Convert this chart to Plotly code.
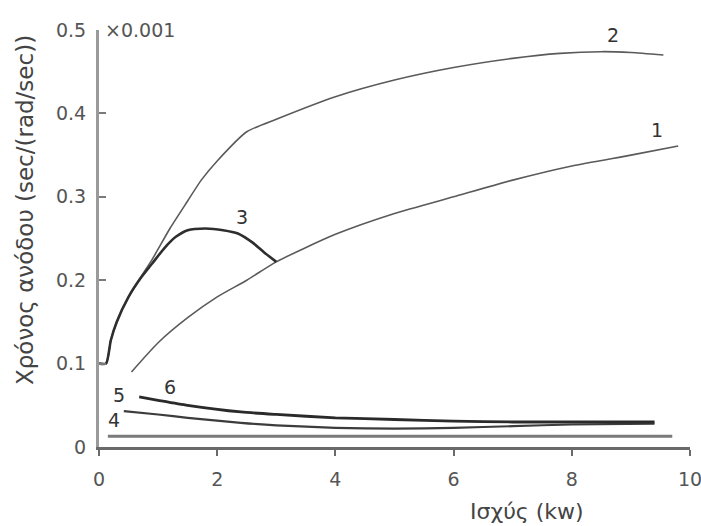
import plotly.graph_objects as go

# Curve data (y in units of 0.001 sec/(rad/sec)), x in kW
c1_x = [0.55, 1.0, 1.5, 2.0, 2.5, 3.0, 4.0, 5.0, 6.0, 7.0, 8.0, 9.0, 9.8]
c1_y = [0.090, 0.125, 0.155, 0.180, 0.200, 0.222, 0.255, 0.280, 0.300, 0.320, 0.337, 0.350, 0.361]

c2_x = [0.0, 0.12, 0.2, 0.3, 0.5, 0.7, 0.9, 1.2, 1.5, 1.73, 2.0, 2.5, 3.0, 4.0, 5.0, 6.0, 7.0, 7.8, 8.5, 9.0, 9.55]
c2_y = [0.100, 0.100, 0.128, 0.150, 0.180, 0.203, 0.225, 0.262, 0.295, 0.320, 0.343, 0.378, 0.393, 0.420, 0.440, 0.455, 0.466, 0.472, 0.474, 0.473, 0.470]

c3_x = [0.0, 0.12, 0.2, 0.3, 0.5, 0.7, 0.9, 1.1, 1.3, 1.5, 1.8, 2.1, 2.35, 2.6, 2.8, 3.0]
c3_y = [0.100, 0.100, 0.128, 0.150, 0.180, 0.202, 0.220, 0.238, 0.252, 0.260, 0.262, 0.260, 0.256, 0.245, 0.233, 0.222]

c4_x = [0.15, 2.0, 4.0, 6.0, 8.0, 9.7]
c4_y = [0.013, 0.013, 0.013, 0.013, 0.013, 0.013]

c5_x = [0.42, 1.0, 1.5, 2.4, 3.0, 4.0, 5.0, 6.0, 7.0, 8.0, 9.4]
c5_y = [0.043, 0.039, 0.035, 0.029, 0.026, 0.023, 0.022, 0.023, 0.025, 0.027, 0.028]

c6_x = [0.68, 1.0, 1.5, 2.4, 3.0, 4.0, 5.0, 6.0, 7.0, 8.0, 9.4]
c6_y = [0.060, 0.056, 0.050, 0.042, 0.039, 0.035, 0.033, 0.031, 0.030, 0.030, 0.030]

x_ticks = [0, 2, 4, 6, 8, 10]
y_ticks = [0, 0.1, 0.2, 0.3, 0.4, 0.5]
y_ticklabels = ["0", "0.1", "0.2", "0.3", "0.4", "0.5"]

curve_labels = ["1", "2", "3", "4", "5", "6"]
label_x = [9.44, 8.7, 2.42, 0.25, 0.34, 1.2]
label_y = [0.380, 0.494, 0.276, 0.032, 0.062, 0.072]

FONT = "DejaVu Sans"
W, H = 701, 526
L, R, T, B = 99, 11, 30, 79
pw, ph = W - L - R, H - T - B

fig = go.Figure()
styles = [
    (c1_x, c1_y, "#5a5a5a", 1.6),
    (c2_x, c2_y, "#5a5a5a", 1.6),
    (c3_x, c3_y, "#2e2e2e", 2.6),
    (c4_x, c4_y, "#7a7a7a", 3.0),
    (c5_x, c5_y, "#3c3c3c", 2.2),
    (c6_x, c6_y, "#2a2a2a", 2.8),
]
for xs, ys, col, w in styles:
    fig.add_trace(go.Scatter(x=xs, y=ys, mode="lines",
                             line=dict(color=col, width=w, shape="spline", smoothing=0.6),
                             showlegend=False, hoverinfo="skip"))

for t, lx, ly in zip(curve_labels, label_x, label_y):
    fig.add_annotation(x=lx, y=ly, text=t, showarrow=False,
                       font=dict(family=FONT, size=19, color="#333333"))

fig.add_annotation(x=0.06, y=0.5, xref="x", yref="y", xanchor="left", yanchor="middle",
                   text="×0.001", showarrow=False,
                   font=dict(family=FONT, size=19, color="#555555"))

# axis titles placed in paper coordinates (pixel targets converted)
fig.add_annotation(xref="paper", yref="paper", x=(25 - L) / pw, y=(H - 210 - B) / ph,
                   xanchor="center", yanchor="middle",
                   text="Χρόνος ανόδου (sec/(rad/sec))", showarrow=False, textangle=-90,
                   font=dict(family=FONT, size=23, color="#444444"))
fig.add_annotation(xref="paper", yref="paper", x=(527 - L) / pw, y=(H - 512 - B) / ph,
                   xanchor="center", yanchor="middle",
                   text="Ισχύς (kw)", showarrow=False,
                   font=dict(family=FONT, size=22, color="#444444"))

fig.update_layout(
    width=W, height=H,
    margin=dict(l=L, r=R, t=T, b=B, autoexpand=False),
    paper_bgcolor="white", plot_bgcolor="white",
    font=dict(family=FONT, size=19, color="#555555"),
)
fig.update_xaxes(range=[0, 10], tickvals=x_ticks, ticktext=[str(v) for v in x_ticks],
                 showgrid=False, zeroline=False, showline=True, linecolor="#6a6a6a", linewidth=3,
                 ticks="outside", ticklen=6, tickwidth=2, tickcolor="#6a6a6a",
                 ticklabeloverflow="allow", automargin=False,
                 ticklabelstandoff=7, tickfont=dict(family=FONT, size=19, color="#555555"))
fig.update_yaxes(range=[0, 0.5], tickvals=y_ticks, ticktext=y_ticklabels,
                 showgrid=False, zeroline=False, showline=True, linecolor="#9a9a9a", linewidth=3,
                 ticks="inside", ticklen=7, tickwidth=2, tickcolor="#7a7a7a",
                 ticklabeloverflow="allow", automargin=False,
                 ticklabelstandoff=6, tickfont=dict(family=FONT, size=19, color="#555555"))

fig.write_html("out.html")
